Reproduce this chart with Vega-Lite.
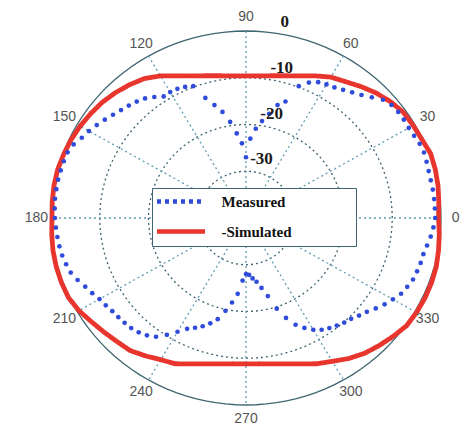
{
 "$schema": "https://vega.github.io/schema/vega-lite/v6.json",
 "width": 390, "height": 374,
 "autosize": {"type": "none"},
 "padding": {"left": 51, "top": 31, "right": 19, "bottom": 22},
 "background": "white",
 "config": {"view": {"stroke": null}},
 "datasets": {
  "pattern": [
   {"series":"Measured","angle":0,"db":-1.2},{"series":"Measured","angle":3,"db":-1.2},{"series":"Measured","angle":6,"db":-1.2},{"series":"Measured","angle":9,"db":-1.2},{"series":"Measured","angle":12,"db":-1.25},{"series":"Measured","angle":15,"db":-1.2},{"series":"Measured","angle":18,"db":-1.05},{"series":"Measured","angle":21,"db":-0.9},{"series":"Measured","angle":24,"db":-1.0},{"series":"Measured","angle":27,"db":-1.3},
   {"series":"Measured","angle":30,"db":-1.45},{"series":"Measured","angle":33,"db":-1.4},{"series":"Measured","angle":36,"db":-1.4},{"series":"Measured","angle":39,"db":-1.6},{"series":"Measured","angle":42,"db":-2.2},{"series":"Measured","angle":45,"db":-3.5},{"series":"Measured","angle":48,"db":-4.6},{"series":"Measured","angle":51,"db":-5.4},{"series":"Measured","angle":54,"db":-6.1},{"series":"Measured","angle":57,"db":-6.7},
   {"series":"Measured","angle":60,"db":-7.0},{"series":"Measured","angle":63,"db":-7.4},{"series":"Measured","angle":66,"db":-8.3},{"series":"Measured","angle":69,"db":-9.8},{"series":"Measured","angle":72,"db":-13.8},{"series":"Measured","angle":75,"db":-15.0},{"series":"Measured","angle":78,"db":-17.2},{"series":"Measured","angle":81,"db":-19.0},{"series":"Measured","angle":84,"db":-20.8},{"series":"Measured","angle":87,"db":-23.0},
   {"series":"Measured","angle":90,"db":-27.0},{"series":"Measured","angle":93,"db":-24.0},{"series":"Measured","angle":96,"db":-21.8},{"series":"Measured","angle":99,"db":-19.2},{"series":"Measured","angle":102,"db":-16.8},{"series":"Measured","angle":105,"db":-15.0},{"series":"Measured","angle":108,"db":-13.0},{"series":"Measured","angle":111,"db":-9.8},{"series":"Measured","angle":114,"db":-9.3},{"series":"Measured","angle":117,"db":-9.0},
   {"series":"Measured","angle":120,"db":-8.9},{"series":"Measured","angle":123,"db":-9.0},{"series":"Measured","angle":126,"db":-8.0},{"series":"Measured","angle":129,"db":-7.1},{"series":"Measured","angle":132,"db":-6.5},{"series":"Measured","angle":135,"db":-6.0},{"series":"Measured","angle":138,"db":-5.5},{"series":"Measured","angle":141,"db":-4.9},{"series":"Measured","angle":144,"db":-4.2},{"series":"Measured","angle":147,"db":-3.5},
   {"series":"Measured","angle":150,"db":-2.8},{"series":"Measured","angle":153,"db":-2.2},{"series":"Measured","angle":156,"db":-1.3},{"series":"Measured","angle":159,"db":-0.8},{"series":"Measured","angle":162,"db":-0.7},{"series":"Measured","angle":165,"db":-0.65},{"series":"Measured","angle":168,"db":-0.6},{"series":"Measured","angle":171,"db":-0.6},{"series":"Measured","angle":174,"db":-0.6},{"series":"Measured","angle":177,"db":-0.7},
   {"series":"Measured","angle":180,"db":-0.8},{"series":"Measured","angle":183,"db":-0.95},{"series":"Measured","angle":186,"db":-1.1},{"series":"Measured","angle":189,"db":-1.25},{"series":"Measured","angle":192,"db":-1.45},{"series":"Measured","angle":195,"db":-1.8},{"series":"Measured","angle":198,"db":-2.2},{"series":"Measured","angle":201,"db":-3.0},{"series":"Measured","angle":204,"db":-3.9},{"series":"Measured","angle":207,"db":-4.6},
   {"series":"Measured","angle":210,"db":-5.3},{"series":"Measured","angle":213,"db":-5.7},{"series":"Measured","angle":216,"db":-6.1},{"series":"Measured","angle":219,"db":-6.3},{"series":"Measured","angle":222,"db":-6.5},{"series":"Measured","angle":225,"db":-6.7},{"series":"Measured","angle":228,"db":-7.1},{"series":"Measured","angle":231,"db":-7.7},{"series":"Measured","angle":234,"db":-8.6},{"series":"Measured","angle":237,"db":-10.2},
   {"series":"Measured","angle":240,"db":-11.9},{"series":"Measured","angle":243,"db":-13.4},{"series":"Measured","angle":246,"db":-14.3},{"series":"Measured","angle":249,"db":-15.2},{"series":"Measured","angle":252,"db":-16.3},{"series":"Measured","angle":255,"db":-17.6},{"series":"Measured","angle":258,"db":-19.7},{"series":"Measured","angle":261,"db":-21.7},{"series":"Measured","angle":264,"db":-23.7},{"series":"Measured","angle":267,"db":-26.6},
   {"series":"Measured","angle":270,"db":-28.0},{"series":"Measured","angle":273,"db":-27.8},{"series":"Measured","angle":276,"db":-27.0},{"series":"Measured","angle":279,"db":-26.2},{"series":"Measured","angle":282,"db":-24.7},{"series":"Measured","angle":285,"db":-22.7},{"series":"Measured","angle":288,"db":-19.6},{"series":"Measured","angle":291,"db":-17.1},{"series":"Measured","angle":294,"db":-15.0},{"series":"Measured","angle":297,"db":-13.6},
   {"series":"Measured","angle":300,"db":-12.4},{"series":"Measured","angle":303,"db":-11.5},{"series":"Measured","angle":306,"db":-10.9},{"series":"Measured","angle":309,"db":-10.4},{"series":"Measured","angle":312,"db":-9.9},{"series":"Measured","angle":315,"db":-9.5},{"series":"Measured","angle":318,"db":-8.8},{"series":"Measured","angle":321,"db":-8.1},{"series":"Measured","angle":324,"db":-7.1},{"series":"Measured","angle":327,"db":-6.1},
   {"series":"Measured","angle":330,"db":-5.2},{"series":"Measured","angle":333,"db":-4.3},{"series":"Measured","angle":336,"db":-3.8},{"series":"Measured","angle":339,"db":-3.3},{"series":"Measured","angle":342,"db":-3.1},{"series":"Measured","angle":345,"db":-2.9},{"series":"Measured","angle":348,"db":-2.8},{"series":"Measured","angle":351,"db":-2.4},{"series":"Measured","angle":354,"db":-1.9},{"series":"Measured","angle":357,"db":-1.5},
   {"series":"Simulated","angle":0,"db":-0.5},{"series":"Simulated","angle":5,"db":-0.3},{"series":"Simulated","angle":10,"db":0},{"series":"Simulated","angle":15,"db":0.2},{"series":"Simulated","angle":20,"db":0.3},{"series":"Simulated","angle":25,"db":-0.2},{"series":"Simulated","angle":30,"db":-0.4},{"series":"Simulated","angle":35,"db":-0.6},{"series":"Simulated","angle":40,"db":-1.3},{"series":"Simulated","angle":45,"db":-2.2},
   {"series":"Simulated","angle":50,"db":-3.3},{"series":"Simulated","angle":55,"db":-4.4},{"series":"Simulated","angle":60,"db":-5.2},{"series":"Simulated","angle":65,"db":-6.45},{"series":"Simulated","angle":70,"db":-7.65},{"series":"Simulated","angle":75,"db":-8.5},{"series":"Simulated","angle":80,"db":-9.1},{"series":"Simulated","angle":85,"db":-9.5},{"series":"Simulated","angle":90,"db":-9.6},{"series":"Simulated","angle":95,"db":-9.5},
   {"series":"Simulated","angle":100,"db":-9.1},{"series":"Simulated","angle":105,"db":-8.5},{"series":"Simulated","angle":110,"db":-7.65},{"series":"Simulated","angle":115,"db":-6.45},{"series":"Simulated","angle":120,"db":-4.9},{"series":"Simulated","angle":125,"db":-3.6},{"series":"Simulated","angle":130,"db":-2.8},{"series":"Simulated","angle":135,"db":-2.1},{"series":"Simulated","angle":140,"db":-1.5},{"series":"Simulated","angle":145,"db":-1.1},
   {"series":"Simulated","angle":150,"db":-0.7},{"series":"Simulated","angle":155,"db":-0.4},{"series":"Simulated","angle":160,"db":-0.2},{"series":"Simulated","angle":165,"db":0},{"series":"Simulated","angle":170,"db":0},{"series":"Simulated","angle":175,"db":-0.1},{"series":"Simulated","angle":180,"db":-0.2},{"series":"Simulated","angle":185,"db":0},{"series":"Simulated","angle":190,"db":0.2},{"series":"Simulated","angle":195,"db":0.3},
   {"series":"Simulated","angle":200,"db":0.3},{"series":"Simulated","angle":205,"db":0.2},{"series":"Simulated","angle":210,"db":-0.4},{"series":"Simulated","angle":215,"db":-1.3},{"series":"Simulated","angle":220,"db":-2.0},{"series":"Simulated","angle":225,"db":-2.6},{"series":"Simulated","angle":230,"db":-3.0},{"series":"Simulated","angle":235,"db":-4.0},{"series":"Simulated","angle":240,"db":-5.0},{"series":"Simulated","angle":245,"db":-5.6},
   {"series":"Simulated","angle":250,"db":-6.8},{"series":"Simulated","angle":255,"db":-7.7},{"series":"Simulated","angle":260,"db":-8.3},{"series":"Simulated","angle":265,"db":-8.7},{"series":"Simulated","angle":270,"db":-8.8},{"series":"Simulated","angle":275,"db":-8.7},{"series":"Simulated","angle":280,"db":-8.3},{"series":"Simulated","angle":285,"db":-7.7},{"series":"Simulated","angle":290,"db":-6.8},{"series":"Simulated","angle":295,"db":-5.6},
   {"series":"Simulated","angle":300,"db":-4.6},{"series":"Simulated","angle":305,"db":-3.3},{"series":"Simulated","angle":310,"db":-2.2},{"series":"Simulated","angle":315,"db":-1.4},{"series":"Simulated","angle":320,"db":-0.6},{"series":"Simulated","angle":325,"db":0.2},{"series":"Simulated","angle":330,"db":0.4},{"series":"Simulated","angle":335,"db":0.5},{"series":"Simulated","angle":340,"db":0.5},{"series":"Simulated","angle":345,"db":0.4},
   {"series":"Simulated","angle":350,"db":0.1},{"series":"Simulated","angle":355,"db":-0.2}
  ]
 },
 "layer": [
  {
   "data": {"name": "pattern"},
   "transform": [
    {"filter": "datum.series == 'Measured'"},
    {"calculate": "10", "as": "ring30"},
    {"calculate": "20", "as": "ring20"},
    {"calculate": "30", "as": "ring10"},
    {"fold": ["ring30", "ring20", "ring10"], "as": ["ring", "R"]},
    {"calculate": "datum.R*cos(datum.angle*PI/180)", "as": "gx"},
    {"calculate": "datum.R*sin(datum.angle*PI/180)", "as": "gy"}
   ],
   "mark": {"type": "line", "interpolate": "linear-closed", "stroke": "#3f6573", "strokeWidth": 1.3, "strokeDash": [2, 3]},
   "encoding": {
    "x": {"field": "gx", "type": "quantitative", "scale": {"domain": [-40, 40], "nice": false, "zero": false}, "axis": null},
    "y": {"field": "gy", "type": "quantitative", "scale": {"domain": [-40, 40], "nice": false, "zero": false}, "axis": null},
    "detail": {"field": "ring", "type": "nominal"},
    "order": {"field": "angle", "type": "quantitative"}
   }
  },
  {
   "data": {"name": "pattern"},
   "transform": [
    {"filter": "datum.series == 'Measured'"},
    {"calculate": "40*cos(datum.angle*PI/180)", "as": "ox"},
    {"calculate": "40*sin(datum.angle*PI/180)", "as": "oy"}
   ],
   "mark": {"type": "line", "interpolate": "linear-closed", "stroke": "#3e6571", "strokeWidth": 1.3},
   "encoding": {
    "x": {"field": "ox", "type": "quantitative", "scale": {"domain": [-40, 40], "nice": false, "zero": false}, "axis": null},
    "y": {"field": "oy", "type": "quantitative", "scale": {"domain": [-40, 40], "nice": false, "zero": false}, "axis": null},
    "order": {"field": "angle", "type": "quantitative"}
   }
  },
  {
   "data": {"values": [{"angle": 0}, {"angle": 30}, {"angle": 60}, {"angle": 90}, {"angle": 120}, {"angle": 150}]},
   "transform": [
    {"calculate": "40*cos(datum.angle*PI/180)", "as": "sx"},
    {"calculate": "40*sin(datum.angle*PI/180)", "as": "sy"},
    {"calculate": "-datum.sx", "as": "ex"},
    {"calculate": "-datum.sy", "as": "ey"}
   ],
   "mark": {"type": "rule", "stroke": "#5f9cb2", "strokeWidth": 1.3, "strokeDash": [2, 3]},
   "encoding": {
    "x": {"field": "sx", "type": "quantitative", "scale": {"domain": [-40, 40], "nice": false, "zero": false}, "axis": null},
    "y": {"field": "sy", "type": "quantitative", "scale": {"domain": [-40, 40], "nice": false, "zero": false}, "axis": null},
    "x2": {"field": "ex"},
    "y2": {"field": "ey"}
   }
  },
  {
   "data": {"name": "pattern"},
   "transform": [
    {"filter": "datum.series == 'Simulated'"},
    {"calculate": "(datum.db+40)*cos(datum.angle*PI/180)", "as": "px"},
    {"calculate": "(datum.db+40)*sin(datum.angle*PI/180)", "as": "py"}
   ],
   "mark": {"type": "line", "interpolate": "linear-closed", "strokeWidth": 4.8},
   "encoding": {
    "x": {"field": "px", "type": "quantitative", "scale": {"domain": [-40, 40], "nice": false, "zero": false}, "axis": null},
    "y": {"field": "py", "type": "quantitative", "scale": {"domain": [-40, 40], "nice": false, "zero": false}, "axis": null},
    "order": {"field": "angle", "type": "quantitative"},
    "color": {"field": "series", "type": "nominal",
     "scale": {"domain": ["Measured", "Simulated"], "range": ["#2f4bd9", "#e8362f"]},
     "legend": {"title": "xxxxxx", "titleOrient": "right", "titleOpacity": 0, "titleFont": "Liberation Sans", "titleFontSize": 15, "titlePadding": 8, "orient": "none", "legendX": 101, "legendY": 157, "symbolType": "M-4,0H4", "symbolSize": 144, "symbolOffset": 15.5, "symbolStrokeWidth": 4.5, "labelFont": "Liberation Serif", "labelFontWeight": "bold", "labelFontSize": 15, "labelColor": "#111111", "labelOffset": 32, "rowPadding": 11, "padding": 5, "fillColor": "white", "strokeColor": "#3d6470", "labelExpr": "datum.label == 'Simulated' ? '-Simulated' : datum.label"}},
    "strokeDash": {"field": "series", "type": "nominal",
     "scale": {"domain": ["Measured", "Simulated"], "range": [[4, 4], [1, 0]]},
     "legend": {"title": "xxxxxx", "titleOrient": "right", "titleOpacity": 0, "titleFont": "Liberation Sans", "titleFontSize": 15, "titlePadding": 8, "orient": "none", "legendX": 101, "legendY": 157, "symbolType": "M-4,0H4", "symbolSize": 144, "symbolOffset": 15.5, "symbolStrokeWidth": 4.5, "labelFont": "Liberation Serif", "labelFontWeight": "bold", "labelFontSize": 15, "labelColor": "#111111", "labelOffset": 32, "rowPadding": 11, "padding": 5, "fillColor": "white", "strokeColor": "#3d6470", "labelExpr": "datum.label == 'Simulated' ? '-Simulated' : datum.label"}}
   }
  },
  {
   "data": {"name": "pattern"},
   "transform": [
    {"filter": "datum.series == 'Measured'"},
    {"calculate": "(datum.db+40)*cos(datum.angle*PI/180)", "as": "px"},
    {"calculate": "(datum.db+40)*sin(datum.angle*PI/180)", "as": "py"}
   ],
   "mark": {"type": "point", "filled": true, "color": "#2f4bd9", "size": 22, "opacity": 1},
   "encoding": {
    "x": {"field": "px", "type": "quantitative", "scale": {"domain": [-40, 40], "nice": false, "zero": false}, "axis": null},
    "y": {"field": "py", "type": "quantitative", "scale": {"domain": [-40, 40], "nice": false, "zero": false}, "axis": null}
   }
  },
  {
   "data": {"values": [
    {"lab": "0", "angle": 0}, {"lab": "30", "angle": 30}, {"lab": "60", "angle": 60}, {"lab": "90", "angle": 90},
    {"lab": "120", "angle": 120}, {"lab": "150", "angle": 150}, {"lab": "180", "angle": 180}, {"lab": "210", "angle": 210},
    {"lab": "240", "angle": 240}, {"lab": "270", "angle": 270}, {"lab": "300", "angle": 300}, {"lab": "330", "angle": 330}
   ]},
   "transform": [
    {"calculate": "43.0*cos(datum.angle*PI/180)", "as": "lx"},
    {"calculate": "43.0*sin(datum.angle*PI/180)", "as": "ly"}
   ],
   "mark": {"type": "text", "font": "Liberation Sans", "fontSize": 14, "color": "#555555", "align": "center", "baseline": "middle"},
   "encoding": {
    "x": {"field": "lx", "type": "quantitative", "scale": {"domain": [-40, 40], "nice": false, "zero": false}, "axis": null},
    "y": {"field": "ly", "type": "quantitative", "scale": {"domain": [-40, 40], "nice": false, "zero": false}, "axis": null},
    "text": {"field": "lab"}
   }
  },
  {
   "data": {"values": [
    {"lab": "0", "ring": 0}, {"lab": "-10", "ring": -10}, {"lab": "-20", "ring": -20}, {"lab": "-30", "ring": -30}
   ]},
   "transform": [
    {"calculate": "(datum.ring+40)*cos(78*PI/180)", "as": "rx"},
    {"calculate": "(datum.ring+40)*sin(78*PI/180)", "as": "ry"}
   ],
   "mark": {"type": "text", "font": "Liberation Serif", "fontWeight": "bold", "fontSize": 17, "color": "#1a1a1a", "align": "left", "baseline": "middle", "dx": -6, "dy": -13},
   "encoding": {
    "x": {"field": "rx", "type": "quantitative", "scale": {"domain": [-40, 40], "nice": false, "zero": false}, "axis": null},
    "y": {"field": "ry", "type": "quantitative", "scale": {"domain": [-40, 40], "nice": false, "zero": false}, "axis": null},
    "text": {"field": "lab"}
   }
  }
 ]
}
